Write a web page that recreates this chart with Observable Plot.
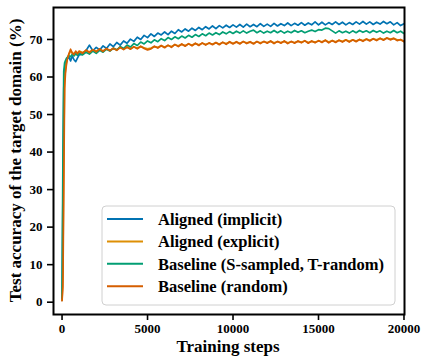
<!DOCTYPE html>
<html><head><meta charset="utf-8">
<script src="https://cdn.jsdelivr.net/npm/d3@7"></script>
<script src="https://cdn.jsdelivr.net/npm/@observablehq/plot@0.6"></script>
<style>body{margin:0;background:#fff;}</style>
</head><body><div id="chart"></div>
<script>
const steps = [0,50,100,150,200,250,300,400,500,600,700,800,900,1000,
1200,1400,1600,1800,2000,2200,2400,2600,2800,3000,
3200,3400,3600,3800,4000,4200,4400,4600,4800,5000,
5200,5400,5600,5800,6000,6200,6400,6600,6800,7000,
7200,7400,7600,7800,8000,8200,8400,8600,8800,9000,
9200,9400,9600,9800,10000,10200,10400,10600,10800,11000,
11200,11400,11600,11800,12000,12200,12400,12600,12800,13000,
13200,13400,13600,13800,14000,14200,14400,14600,14800,15000,
15200,15400,15600,15800,16000,16200,16400,16600,16800,17000,
17200,17400,17600,17800,18000,18200,18400,18600,18800,19000,
19200,19400,19600,19800,20000];

const implicitAcc = [0.5,28,57,62,63.4,64.2,64.8,65.3,64.3,65.6,64.6,64.1,65.0,65.9,
66.1,67.0,68.5,67.0,67.9,67.2,68.3,67.6,68.8,68.1,
69.2,68.5,69.6,69.0,70.1,69.5,70.6,70.0,71.1,70.5,
71.5,70.8,71.7,71.2,72.0,71.3,72.2,71.6,72.6,72.0,
72.8,72.2,73.0,72.4,73.2,72.6,73.4,72.8,73.6,72.9,
73.7,73.1,73.8,73.2,73.9,73.3,74.0,73.3,74.1,73.4,
74.0,73.4,74.2,73.5,74.1,73.5,74.3,73.6,74.2,73.7,
74.4,73.7,74.3,73.8,74.5,73.8,74.4,73.9,74.7,73.9,
74.6,73.9,74.5,74.0,74.7,74.0,74.6,73.9,74.5,74.0,
74.7,74.1,74.8,74.1,74.7,74.0,74.6,74.1,74.8,74.2,
74.7,73.9,74.5,73.7,74.2];

const explicitAcc = [0.5,8,40,59,62,63.8,65.0,66.0,66.9,66.5,66.2,66.6,66.4,66.9,
66.5,67.0,66.7,67.1,66.9,67.3,67.0,67.4,67.2,67.5,
67.3,67.8,67.5,67.9,67.6,68.0,67.7,68.1,67.8,67.5,
67.7,68.1,67.9,68.3,68.0,68.4,68.1,68.6,68.3,68.7,
68.4,68.8,68.5,68.9,68.6,69.0,68.7,69.0,68.8,69.1,
68.8,69.2,68.9,69.3,69.0,69.3,69.0,69.4,69.1,69.3,
69.0,69.4,69.1,69.4,69.2,69.5,69.1,69.4,69.2,69.5,
69.1,69.4,69.2,69.5,69.3,69.6,69.2,69.5,69.3,69.6,
69.4,69.8,69.3,69.7,69.4,69.8,69.5,69.9,69.5,69.9,
69.6,70.0,69.7,70.1,69.8,70.2,69.9,70.3,70.0,70.4,
70.1,70.3,69.9,69.9,69.6];

const sampledAcc = [1.0,38,61.5,63.8,64.4,64.9,65.2,65.7,65.4,66.1,65.6,66.2,65.8,66.3,
65.9,66.6,66.1,66.9,66.3,67.1,66.6,67.4,66.9,67.7,
67.2,68.1,67.6,68.5,68.0,68.9,68.4,69.3,68.8,69.6,
69.1,69.9,69.4,70.2,69.7,70.5,70.0,70.7,70.2,70.9,
70.4,71.1,70.6,71.3,70.8,71.5,71.0,71.7,71.2,71.8,
71.3,72.0,71.5,72.1,71.6,72.2,71.7,72.3,71.7,72.2,
72.5,71.8,72.3,71.7,72.2,71.8,72.4,71.8,72.3,71.7,
72.2,71.8,72.4,71.9,72.3,71.8,72.2,72.5,72.1,72.6,
72.5,73.0,72.9,72.3,71.7,72.3,71.8,72.2,71.7,72.3,
71.8,72.4,71.9,72.3,71.8,72.4,71.9,72.3,71.7,72.2,
71.8,72.4,71.8,72.2,71.6];

const randomAcc = [0.4,4,30,57,61,63,64.5,66.2,67.4,66.3,66.0,66.9,66.2,66.8,
66.3,67.2,66.5,67.3,66.7,67.5,66.8,67.6,67.0,67.7,
67.1,67.9,67.3,68.0,67.4,68.1,67.5,68.2,67.6,67.2,
67.5,68.2,67.7,68.4,67.8,68.5,67.9,68.7,68.1,68.8,
68.2,68.9,68.3,69.0,68.4,69.1,68.5,69.1,68.6,69.2,
68.6,69.3,68.7,69.4,68.8,69.4,68.8,69.5,68.9,69.4,
68.8,69.5,68.9,69.5,69.0,69.6,68.9,69.5,69.0,69.6,
68.9,69.5,69.0,69.6,69.1,69.7,69.0,69.6,69.1,69.7,
69.2,69.8,69.1,69.7,69.2,69.8,69.3,69.9,69.3,69.9,
69.4,70.0,69.5,70.1,69.6,70.2,69.7,70.3,69.8,70.4,
69.9,70.3,69.7,70.0,69.4];

const seriesNames = ["Aligned (implicit)","Aligned (explicit)","Baseline (S-sampled, T-random)","Baseline (random)"];
const seriesColors = ["#0173b2","#de8f05","#029e73","#d55e00"];
const xTicks = [0,5000,10000,15000,20000];
const yTicks = [0,10,20,30,40,50,60,70];
const xLabel = "Training steps";
const yLabel = "Test accuracy of the target domain (%)";

const rows = [];
[implicitAcc, explicitAcc, sampledAcc, randomAcc].forEach((vals,i) =>
  vals.forEach((v,j) => rows.push({step: steps[j], acc: v, series: seriesNames[i]})));

const font = "'Liberation Serif','Times New Roman',serif";
const plot = Plot.plot({
  width: 422, height: 358,
  marginLeft: 53, marginRight: 18, marginTop: 7, marginBottom: 44,
  style: {fontFamily: font, fontSize: "13px", fontWeight: "bold", background: "#fff", color: "#000"},
  x: {domain: [-500, 20030]},
  y: {domain: [-3.28, 78.52]},
  color: {domain: seriesNames, range: seriesColors},
  marks: [
    Plot.line(rows, {x: "step", y: "acc", stroke: "series", z: "series", strokeWidth: 1.7}),
    Plot.frame({stroke: "#000", strokeWidth: 2}),
    Plot.axisX({ticks: xTicks, tickSize: 6, tickPadding: 3, strokeWidth: 1.6, label: null, tickFormat: d => String(d)}),
    Plot.axisY({ticks: yTicks, tickSize: 6, tickPadding: 5, strokeWidth: 1.6, label: null, tickFormat: d => String(d)})
  ]
});
document.getElementById("chart").appendChild(plot);

const svg = d3.select(plot);
svg.append("text").attr("x", 228).attr("y", 351.5).attr("text-anchor", "middle")
  .style("font-size", "17px").style("font-family", font).style("font-weight", "bold").attr("fill", "#000").text(xLabel);
svg.append("text").attr("transform", "translate(21,160.5) rotate(-90)").attr("text-anchor", "middle")
  .style("font-size", "17px").style("font-family", font).style("font-weight", "bold").attr("fill", "#000").text(yLabel);

const lg = svg.append("g").attr("transform", "translate(102,206)");
lg.append("rect").attr("width", 293).attr("height", 99).attr("rx", 4)
  .attr("fill", "#fff").attr("fill-opacity", 0.8).attr("stroke", "#d0d0d0");
seriesNames.forEach((name, i) => {
  const cy = 13 + i * 22.4;
  lg.append("line").attr("x1", 5).attr("x2", 41).attr("y1", cy).attr("y2", cy)
    .attr("stroke", seriesColors[i]).attr("stroke-width", 2);
  lg.append("text").attr("x", 56).attr("y", cy).attr("dy", "0.35em").attr("text-anchor", "start")
    .style("font-size", "16.5px").style("font-family", font).style("font-weight", "bold").attr("fill", "#000").text(name);
});
</script>
</body></html>
